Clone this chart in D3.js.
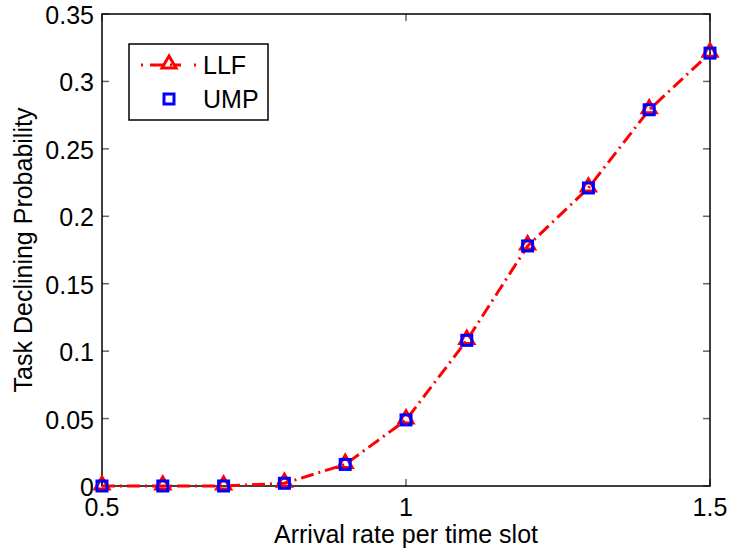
<!DOCTYPE html>
<html>
<head>
<meta charset="utf-8">
<script src="https://cdn.jsdelivr.net/npm/d3@7"></script>
<style>
  body { margin: 0; background: #fff; }
  text { font-family: "Liberation Sans", Arial, sans-serif; }
</style>
</head>
<body>
<div id="chart"></div>
<script>
// data
const rates = [0.5, 0.6, 0.7, 0.8, 0.9, 1.0, 1.1, 1.2, 1.3, 1.4, 1.5];
const llf = [0.000, 0.000, 0.000, 0.002, 0.016, 0.049, 0.108, 0.178, 0.221, 0.279, 0.321];
const ump = [0.000, 0.000, 0.000, 0.002, 0.016, 0.049, 0.108, 0.178, 0.221, 0.279, 0.321];
const xTicks = [0.5, 1, 1.5];
const yTicks = [0, 0.05, 0.1, 0.15, 0.2, 0.25, 0.3, 0.35];

const W = 730, H = 552;
const margin = {top: 14, right: 20, bottom: 66, left: 102};
const fs = 25;

const svg = d3.select("#chart").append("svg")
    .attr("width", W)
    .attr("height", H);

const x = d3.scaleLinear().domain([0.5, 1.5]).range([margin.left, W - margin.right]);
const y = d3.scaleLinear().domain([0, 0.35]).range([H - margin.bottom, margin.top]);

// ticks (inside, on all four sides)
const g = svg.append("g");
yTicks.forEach(t => {
    g.append("line").attr("x1", x(0.5)).attr("x2", x(0.5) + 7).attr("y1", y(t)).attr("y2", y(t))
        .attr("stroke", "#666").attr("stroke-width", 1.5);
    g.append("line").attr("x1", x(1.5)).attr("x2", x(1.5) - 7).attr("y1", y(t)).attr("y2", y(t))
        .attr("stroke", "#666").attr("stroke-width", 1.5);
    g.append("text").attr("x", x(0.5) - 8).attr("y", y(t) + 10)
        .attr("text-anchor", "end").attr("font-size", fs).text(t);
});
xTicks.forEach(t => {
    g.append("line").attr("x1", x(t)).attr("x2", x(t)).attr("y1", y(0)).attr("y2", y(0) - 7)
        .attr("stroke", "#666").attr("stroke-width", 1.5);
    g.append("line").attr("x1", x(t)).attr("x2", x(t)).attr("y1", y(0.35)).attr("y2", y(0.35) + 7)
        .attr("stroke", "#666").attr("stroke-width", 1.5);
    g.append("text").attr("x", x(t)).attr("y", 516)
        .attr("text-anchor", "middle").attr("font-size", fs).text(t);
});

// axes box
svg.append("rect")
    .attr("x", x(0.5)).attr("y", y(0.35))
    .attr("width", x(1.5) - x(0.5)).attr("height", y(0) - y(0.35))
    .attr("fill", "none").attr("stroke", "#000").attr("stroke-width", 1.5);

// labels
svg.append("text").attr("x", (x(0.5) + x(1.5)) / 2).attr("y", 543)
    .attr("text-anchor", "middle").attr("font-size", fs).text("Arrival rate per time slot");
svg.append("text")
    .attr("transform", `translate(32,${(y(0) + y(0.35)) / 2}) rotate(-90)`)
    .attr("text-anchor", "middle").attr("font-size", fs).text("Task Declining Probability");

// LLF line
const line = d3.line().x((d, i) => x(rates[i])).y(d => y(d));
svg.append("path").datum(llf)
    .attr("d", line)
    .attr("fill", "none").attr("stroke", "#ff0000").attr("stroke-width", 3)
    .attr("stroke-dasharray", "13,5,2,5");

const tri = d3.symbol().type(d3.symbolTriangle).size(85);
svg.selectAll(".llf").data(llf).enter().append("path")
    .attr("class", "llf")
    .attr("d", tri)
    .attr("transform", (d, i) => `translate(${x(rates[i])},${y(d) - 1})`)
    .attr("fill", "none").attr("stroke", "#ff0000").attr("stroke-width", 3);

svg.selectAll(".ump").data(ump).enter().append("rect")
    .attr("class", "ump")
    .attr("x", (d, i) => x(rates[i]) - 5).attr("y", d => y(d) - 5)
    .attr("width", 10).attr("height", 10)
    .attr("fill", "none").attr("stroke", "#0000ff").attr("stroke-width", 3);

// legend
const lg = svg.append("g");
lg.append("rect").attr("x", 129).attr("y", 44).attr("width", 139).attr("height", 76)
    .attr("fill", "#fff").attr("stroke", "#000").attr("stroke-width", 1.5);
lg.append("line").attr("x1", 141).attr("x2", 196).attr("y1", 65).attr("y2", 65)
    .attr("stroke", "#ff0000").attr("stroke-width", 3).attr("stroke-dasharray", "2,7,13,7,2");
lg.append("path").attr("d", tri).attr("transform", "translate(169,64)")
    .attr("fill", "none").attr("stroke", "#ff0000").attr("stroke-width", 3);
lg.append("rect").attr("x", 164).attr("y", 94).attr("width", 10).attr("height", 10)
    .attr("fill", "none").attr("stroke", "#0000ff").attr("stroke-width", 3);
lg.append("text").attr("x", 203).attr("y", 74).attr("font-size", fs).text("LLF");
lg.append("text").attr("x", 203).attr("y", 108).attr("font-size", fs).text("UMP");
</script>
</body>
</html>
